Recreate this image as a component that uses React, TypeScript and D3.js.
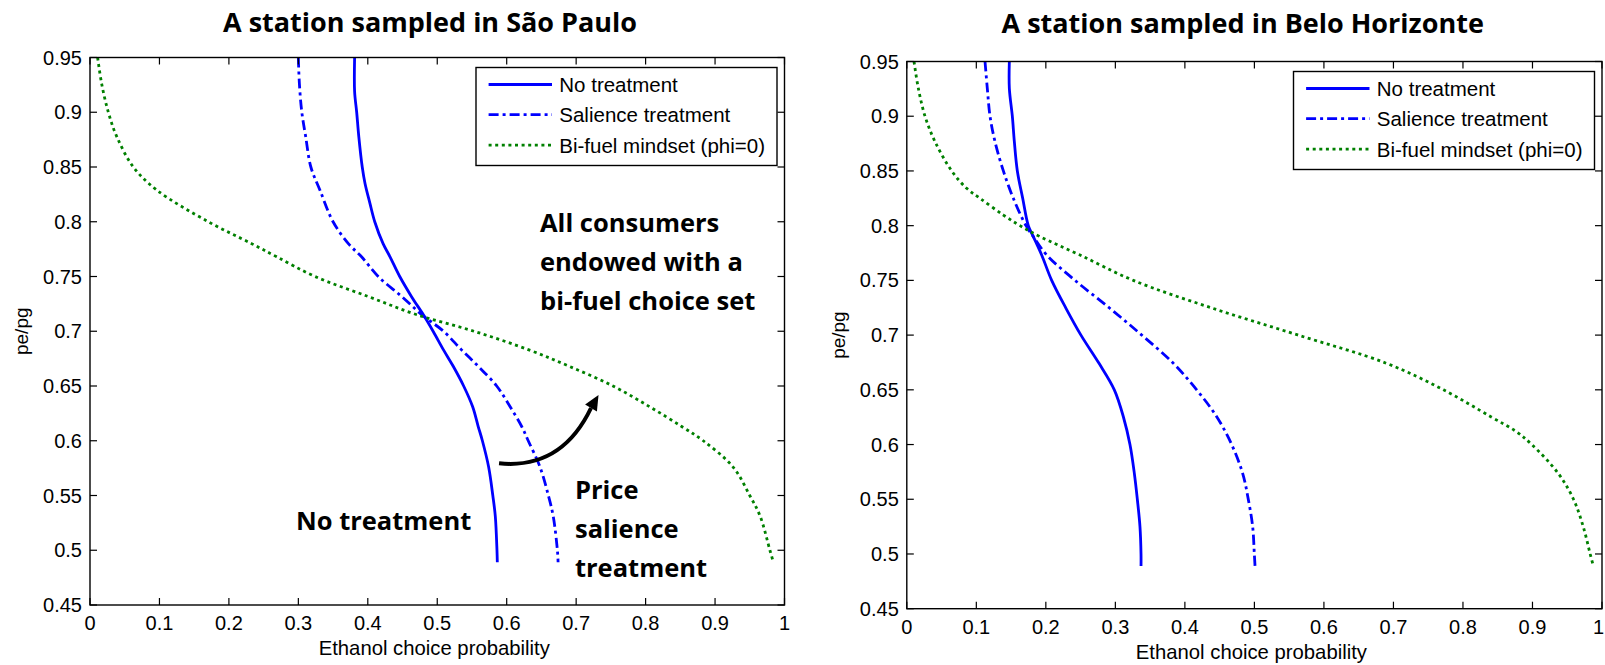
import React from 'react';
import * as d3 from 'd3';

const W = 1605;
const H = 665;

const xTicks = [0, 0.1, 0.2, 0.3, 0.4, 0.5, 0.6, 0.7, 0.8, 0.9, 1];
const yTicks = [0.45, 0.5, 0.55, 0.6, 0.65, 0.7, 0.75, 0.8, 0.85, 0.9, 0.95];
const seriesNames = ['No treatment', 'Salience treatment', 'Bi-fuel mindset (phi=0)'];

// São Paulo station: pe/pg levels and the ethanol choice probability read at each
const spNoTreatRatio = [0.95, 0.919, 0.9, 0.878, 0.85, 0.835, 0.817, 0.8, 0.78, 0.768, 0.75, 0.7316, 0.715, 0.7, 0.683, 0.668, 0.65, 0.631, 0.613, 0.6, 0.576, 0.55, 0.531, 0.5, 0.489];
const spNoTreatProb = [0.381, 0.381, 0.384, 0.387, 0.392, 0.396, 0.403, 0.41, 0.422, 0.432, 0.446, 0.463, 0.48, 0.494, 0.509, 0.523, 0.538, 0.551, 0.559, 0.565, 0.574, 0.58, 0.5836, 0.586, 0.5865];
const spSalienceRatio = [0.95, 0.926, 0.9, 0.878, 0.85, 0.829, 0.8, 0.78, 0.768, 0.75, 0.7316, 0.715, 0.7, 0.683, 0.668, 0.65, 0.631, 0.613, 0.6, 0.576, 0.55, 0.531, 0.5, 0.489];
const spSalienceProb = [0.3, 0.3015, 0.305, 0.3105, 0.318, 0.331, 0.35, 0.372, 0.391, 0.415, 0.449, 0.478, 0.509, 0.535, 0.559, 0.5856, 0.605, 0.6216, 0.631, 0.648, 0.66, 0.667, 0.673, 0.674];
const spBifuelRatio = [0.95, 0.926, 0.9, 0.878, 0.85, 0.829, 0.8, 0.78, 0.768, 0.75, 0.7316, 0.715, 0.7, 0.683, 0.668, 0.65, 0.631, 0.613, 0.6, 0.576, 0.55, 0.531, 0.5, 0.489];
const spBifuelProb = [0.011, 0.0168, 0.0264, 0.0384, 0.0624, 0.096, 0.1704, 0.2328, 0.2688, 0.324, 0.401, 0.471, 0.553, 0.632, 0.69, 0.753, 0.806, 0.852, 0.883, 0.926, 0.95, 0.965, 0.979, 0.984];

// Belo Horizonte station
const bhNoTreatRatio = [0.95, 0.9255, 0.9, 0.8767, 0.85, 0.825, 0.8, 0.79, 0.7732, 0.75, 0.7245, 0.7, 0.6742, 0.65, 0.6254, 0.6, 0.5737, 0.55, 0.525, 0.5, 0.489];
const bhNoTreatProb = [0.1475, 0.1475, 0.1518, 0.1547, 0.159, 0.1667, 0.1748, 0.182, 0.194, 0.2084, 0.229, 0.2505, 0.2765, 0.2985, 0.3115, 0.321, 0.3273, 0.3316, 0.3354, 0.3369, 0.3369];
const bhSalienceRatio = [0.95, 0.9255, 0.9, 0.8767, 0.85, 0.825, 0.8, 0.79, 0.7732, 0.75, 0.7245, 0.7, 0.6742, 0.65, 0.6254, 0.6, 0.5737, 0.55, 0.525, 0.5, 0.489];
const bhSalienceProb = [0.1125, 0.1158, 0.1197, 0.1269, 0.1389, 0.1532, 0.1715, 0.182, 0.2012, 0.242, 0.292, 0.338, 0.3834, 0.417, 0.4458, 0.4673, 0.4831, 0.4912, 0.4975, 0.4999, 0.5009];
const bhBifuelRatio = [0.95, 0.9255, 0.9, 0.8767, 0.85, 0.8341, 0.825, 0.8097, 0.8, 0.79, 0.7732, 0.75, 0.7245, 0.7, 0.6742, 0.65, 0.6254, 0.6117, 0.6, 0.5737, 0.55, 0.525, 0.5, 0.489];
const bhBifuelProb = [0.0104, 0.0166, 0.0262, 0.0406, 0.0646, 0.0861, 0.1053, 0.1389, 0.1628, 0.1916, 0.2491, 0.3258, 0.44, 0.563, 0.69, 0.772, 0.84, 0.877, 0.899, 0.937, 0.959, 0.973, 0.983, 0.9875];

// annotation text for the São Paulo panel, anchored in data units
const spNoteLines = ['All consumers', 'endowed with a', 'bi-fuel choice set'];
const spNoteRatios = [0.7902, 0.755, 0.7198];
const spPriceLines = ['Price', 'salience', 'treatment'];
const spPriceRatios = [0.5465, 0.5109, 0.4759];
// arrow: start, control, end of shaft, tip (prob, ratio)
const spArrowPts: [number, number][] = [[0.589, 0.5794], [0.679, 0.5737], [0.7214, 0.6299], [0.7322, 0.6418]];

const seriesStyle = [
  { color: '#0000ff', dash: undefined as string | undefined },
  { color: '#0000ff', dash: '10 4 3 4' },
  { color: '#008000', dash: '3 3.6' },
];

const axisFont = '"Liberation Sans", Arial, sans-serif';
const boldFont = '"Open Sans", "Noto Sans", sans-serif';

const zip = (p: number[], r: number[]) => p.map((v, i) => [v, r[i]] as [number, number]);

function Panel({ left, right, top, bottom, title, titleX, titleY, xTitleY, yTitleX, curves, children }: any) {
  const x = d3.scaleLinear().domain([0, 1]).range([left, right]);
  const y = d3.scaleLinear().domain([0.45, 0.95]).range([bottom, top]);
  const line = d3.line<[number, number]>()
    .x(d => x(d[0]))
    .y(d => y(d[1]))
    .curve(d3.curveCatmullRom.alpha(0.5));
  const fmt = (v: number) => String(+v.toFixed(2));
  const tick = 7;

  const lx1 = right - 7.5;
  const lx0 = lx1 - 301;
  const ly0 = top + 10;
  const rows = [17, 47.2, 77.6];

  return (
    <g>
      <text x={titleX} y={titleY} textAnchor="middle" fontFamily={boldFont} fontWeight={700} fontSize={27}>{title}</text>
      {curves.map((c: [number, number][], i: number) => (
        <path key={i} d={line(c) || ''} fill="none" stroke={seriesStyle[i].color} strokeWidth={2.8}
          strokeDasharray={seriesStyle[i].dash} />
      ))}
      {children && children(x, y)}
      <rect x={left} y={top} width={right - left} height={bottom - top} fill="none" stroke="#000" strokeWidth={1.4} />
      {xTicks.map(t => {
        // keep the last label inside the page
        const over = x(t) + 6 > W;
        return (
          <g key={'x' + t}>
            <line x1={x(t)} x2={x(t)} y1={bottom} y2={bottom - tick} stroke="#000" strokeWidth={1.2} />
            <line x1={x(t)} x2={x(t)} y1={top} y2={top + tick} stroke="#000" strokeWidth={1.2} />
            <text x={over ? W - 1 : x(t)} y={bottom + 25} textAnchor={over ? 'end' : 'middle'} fontFamily={axisFont} fontSize={20}>{fmt(t)}</text>
          </g>
        );
      })}
      {yTicks.map(t => (
        <g key={'y' + t}>
          <line x1={left} x2={left + tick} y1={y(t)} y2={y(t)} stroke="#000" strokeWidth={1.2} />
          <line x1={right} x2={right - tick} y1={y(t)} y2={y(t)} stroke="#000" strokeWidth={1.2} />
          <text x={left - 8} y={y(t) + 7} textAnchor="end" fontFamily={axisFont} fontSize={20}>{fmt(t)}</text>
        </g>
      ))}
      <text x={(left + right) / 2 - 3} y={xTitleY} textAnchor="middle" fontFamily={axisFont} fontSize={20.3}>Ethanol choice probability</text>
      <text transform={`translate(${yTitleX},${(top + bottom) / 2}) rotate(-90)`} textAnchor="middle" fontFamily={axisFont} fontSize={19}>pe/pg</text>

      <rect x={lx0} y={ly0} width={lx1 - lx0} height={98} fill="#fff" stroke="#000" strokeWidth={1.4} />
      {seriesNames.map((n, i) => (
        <g key={n}>
          <line x1={lx0 + 12.6} x2={lx0 + 76} y1={ly0 + rows[i]} y2={ly0 + rows[i]} stroke={seriesStyle[i].color}
            strokeWidth={2.8} strokeDasharray={seriesStyle[i].dash} />
          <text x={lx0 + 83.3} y={ly0 + rows[i] + 7.5} fontFamily={axisFont} fontSize={20.5}>{n}</text>
        </g>
      ))}
    </g>
  );
}

export default function App() {
  const spCurves = [zip(spNoTreatProb, spNoTreatRatio), zip(spSalienceProb, spSalienceRatio), zip(spBifuelProb, spBifuelRatio)];
  const bhCurves = [zip(bhNoTreatProb, bhNoTreatRatio), zip(bhSalienceProb, bhSalienceRatio), zip(bhBifuelProb, bhBifuelRatio)];

  const spExtras = (x: any, y: any) => {
    const [p0, p1, p2, tip] = spArrowPts.map(p => [x(p[0]), y(p[1])]);
    const dx = tip[0] - p2[0];
    const dy = tip[1] - p2[1];
    const len = Math.hypot(dx, dy);
    const nx = (-dy / len) * 6.8;
    const ny = (dx / len) * 6.8;
    const path = d3.path();
    path.moveTo(p0[0], p0[1]);
    path.quadraticCurveTo(p1[0], p1[1], p2[0], p2[1]);
    return (
      <g>
        <path d={path.toString()} fill="none" stroke="#000" strokeWidth={4} />
        <polygon points={`${tip[0]},${tip[1]} ${p2[0] + nx},${p2[1] + ny} ${p2[0] - nx},${p2[1] - ny}`} fill="#000" />
        {spNoteLines.map((t, i) => (
          <text key={t} x={x(0.648)} y={y(spNoteRatios[i])} fontFamily={boldFont} fontWeight={700} fontSize={25.5}>{t}</text>
        ))}
        {spPriceLines.map((t, i) => (
          <text key={t} x={x(0.6983)} y={y(spPriceRatios[i])} fontFamily={boldFont} fontWeight={700} fontSize={25.5}>{t}</text>
        ))}
        <text x={x(0.2966)} y={y(0.5185)} fontFamily={boldFont} fontWeight={700} fontSize={25.5}>No treatment</text>
      </g>
    );
  };

  return (
    <svg width={W} height={H} style={{ position: 'absolute', left: 0, top: 0, background: '#fff' }}>
      <Panel left={90} right={784.5} top={57.5} bottom={605} title="A station sampled in São Paulo"
        titleX={430} titleY={31.7} xTitleY={655} yTitleX={27.7} curves={spCurves}>
        {spExtras}
      </Panel>
      <Panel left={906.8} right={1602} top={61.5} bottom={608.7} title="A station sampled in Belo Horizonte"
        titleX={1242.7} titleY={33.3} xTitleY={658.7} yTitleX={844.5} curves={bhCurves} />
    </svg>
  );
}
